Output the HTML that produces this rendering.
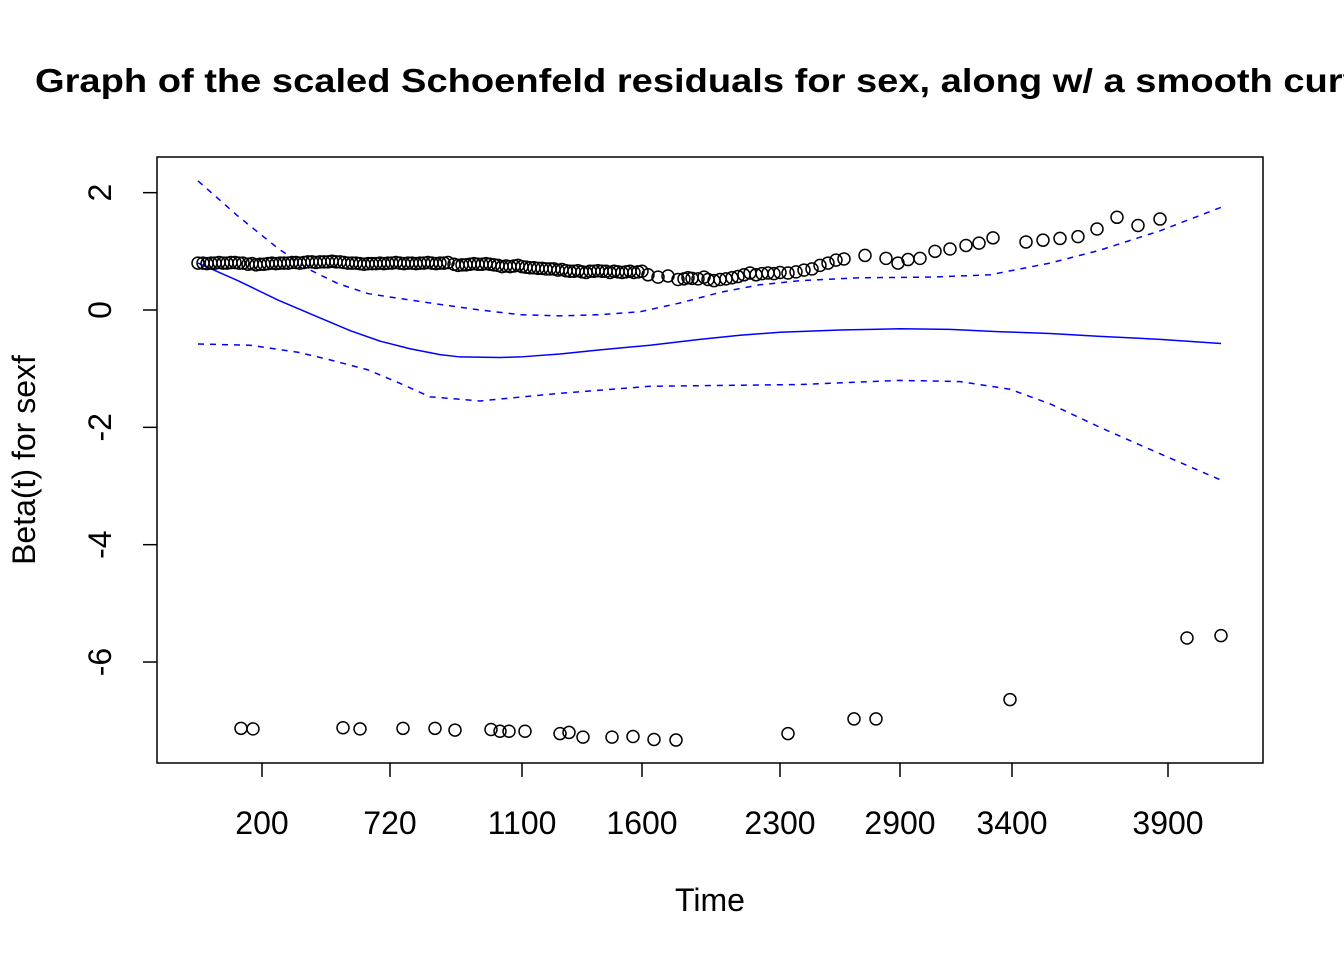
<!DOCTYPE html>
<html><head><meta charset="utf-8"><style>
body{margin:0;background:#fff}
svg text{font-family:"Liberation Sans",Arial,sans-serif}
</style></head><body>
<svg id="chart" width="1344" height="960" xmlns="http://www.w3.org/2000/svg">
<text x="35" y="92" font-size="33" font-weight="bold" textLength="1350" lengthAdjust="spacingAndGlyphs">Graph of the scaled Schoenfeld residuals for sex, along w/ a smooth curve</text>
<rect x="157" y="157" width="1106" height="606" fill="none" stroke="#000" stroke-width="1.5"/>
<text x="710" y="911" font-size="32" text-anchor="middle">Time</text>
<text transform="translate(35,460) rotate(-90)" font-size="32" text-anchor="middle">Beta(t) for sexf</text>
<g id="axes"></g><g id="curves"></g><g id="pts"></g>
</svg>
<script>
// x values are in transformed time (rank) units 0..1023
const xTickValues=[64,192,324,444,582,702,814,970];
const xTickLabels=["200","720","1100","1600","2300","2900","3400","3900"];
const yTickValues=[2,0,-2,-4,-6];
const yTickLabels=["2","0","-2","-4","-6"];
const upperX=[0,5,9,13,17,21,25,29,33,37,41,45,50,54,58,62,66,70,74,78,82,86,90,94,98,102,106,110,114,118,122,126,130,134,138,142,146,150,154,158,162,166,170,174,178,182,186,190,194,198,202,206,210,214,218,222,226,230,234,238,242,246,250,256,260,264,268,272,276,280,284,288,292,296,300,304,308,312,316,320,324,328,332,336,340,344,348,352,356,360,364,368,372,376,380,384,388,392,396,400,404,408,412,416,420,424,428,432,436,440,444,450,460,470,480,486,490,494,500,506,510,516,522,528,534,540,546,552,558,564,570,576,582,590,598,606,614,622,630,638,646,667,688,700,710,722,737,752,768,781,795,828,845,862,880,899,919,940,962];
const upperV=[0.8,0.8,0.79,0.8,0.8,0.81,0.8,0.8,0.81,0.81,0.8,0.8,0.78,0.79,0.77,0.78,0.78,0.79,0.8,0.79,0.8,0.8,0.8,0.81,0.81,0.8,0.81,0.82,0.82,0.81,0.82,0.82,0.82,0.83,0.82,0.82,0.81,0.8,0.8,0.8,0.79,0.78,0.79,0.79,0.79,0.8,0.79,0.8,0.8,0.81,0.8,0.79,0.8,0.8,0.79,0.8,0.8,0.81,0.8,0.79,0.8,0.8,0.81,0.78,0.76,0.77,0.77,0.78,0.79,0.78,0.78,0.79,0.78,0.77,0.76,0.74,0.75,0.74,0.75,0.76,0.74,0.73,0.72,0.72,0.71,0.71,0.7,0.7,0.7,0.68,0.69,0.67,0.66,0.66,0.67,0.65,0.64,0.66,0.66,0.67,0.66,0.66,0.64,0.66,0.65,0.64,0.65,0.66,0.64,0.65,0.66,0.6,0.56,0.58,0.52,0.53,0.55,0.54,0.53,0.56,0.52,0.5,0.52,0.53,0.55,0.57,0.6,0.63,0.6,0.62,0.63,0.62,0.64,0.63,0.65,0.68,0.7,0.76,0.8,0.85,0.87,0.93,0.88,0.8,0.86,0.88,1.0,1.04,1.1,1.14,1.23,1.16,1.19,1.22,1.25,1.38,1.58,1.44,1.55];
const lowerX=[43,55,145,162,205,237,257,293,302,311,327,362,371,385,414,435,456,478,590,656,678,812,989,1023];
const lowerV=[-7.13,-7.14,-7.12,-7.14,-7.13,-7.13,-7.16,-7.15,-7.18,-7.18,-7.18,-7.22,-7.2,-7.28,-7.28,-7.27,-7.32,-7.33,-7.22,-6.97,-6.97,-6.64,-5.59,-5.55];
const fitX=[0,40,80,120,152,182,212,242,262,302,322,362,402,452,502,542,582,642,702,752,802,852,902,962,1023];
const fitV=[0.8,0.5,0.17,-0.12,-0.35,-0.53,-0.66,-0.76,-0.8,-0.81,-0.8,-0.75,-0.68,-0.6,-0.5,-0.43,-0.38,-0.34,-0.32,-0.33,-0.37,-0.4,-0.45,-0.5,-0.57];
const upCiX=[0,40,80,110,140,170,200,240,282,322,362,402,442,482,522,562,602,662,732,792,852,902,962,1023];
const upCiV=[2.2,1.6,1.05,0.7,0.45,0.28,0.2,0.1,0.0,-0.08,-0.1,-0.08,-0.03,0.12,0.3,0.43,0.5,0.55,0.56,0.6,0.8,1.02,1.35,1.75];
const loCiX=[0,52,100,132,170,202,232,282,362,452,602,702,762,812,852,902,962,1023];
const loCiV=[-0.58,-0.6,-0.72,-0.85,-1.02,-1.25,-1.48,-1.55,-1.42,-1.3,-1.27,-1.2,-1.22,-1.35,-1.6,-2.0,-2.45,-2.9];

const NS="http://www.w3.org/2000/svg";
const xs=v=>198+v, ys=v=>310-58.67*v;
function mk(t,a,p){const e=document.createElementNS(NS,t);for(const k in a)e.setAttribute(k,a[k]);document.getElementById(p).appendChild(e);return e;}
xTickValues.forEach((v,i)=>{
  const l=mk('line',{x1:xs(v),x2:xs(v),y1:763,y2:777,stroke:'#000','stroke-width':1.5},'axes');
  
  
  const t=mk('text',{x:xs(v),y:834,'font-size':32,'text-anchor':'middle'},'axes');t.textContent=xTickLabels[i];
  
  
});
yTickValues.forEach((v,i)=>{
  const l=mk('line',{x1:143,x2:157,y1:ys(v),y2:ys(v),stroke:'#000','stroke-width':1.5},'axes');
  
  
  const t=mk('text',{'font-size':32,'text-anchor':'middle',transform:`translate(111,${ys(v)}) rotate(-90)`},'axes');t.textContent=yTickLabels[i];
  
  
});
function line(X,V,dash,name){
  const d=X.map((x,i)=>(i?'L':'M')+xs(x)+','+ys(V[i])).join('');
  const p=mk('path',{d:d,fill:'none',stroke:'#0000ff','stroke-width':1.5,'stroke-dasharray':dash},'curves');
  
  
}
line(fitX,fitV,'none','smooth-fit-line');
line(upCiX,upCiV,'6,6','upper-ci-line');
line(loCiX,loCiV,'6,6','lower-ci-line');
function pts(X,V){X.forEach((x,i)=>{
  const c=mk('circle',{cx:xs(x),cy:ys(V[i]),r:6,fill:'none',stroke:'#000','stroke-width':1.5},'pts');
  
  
});}
pts(upperX,upperV);pts(lowerX,lowerV);
</script>
</body></html>
